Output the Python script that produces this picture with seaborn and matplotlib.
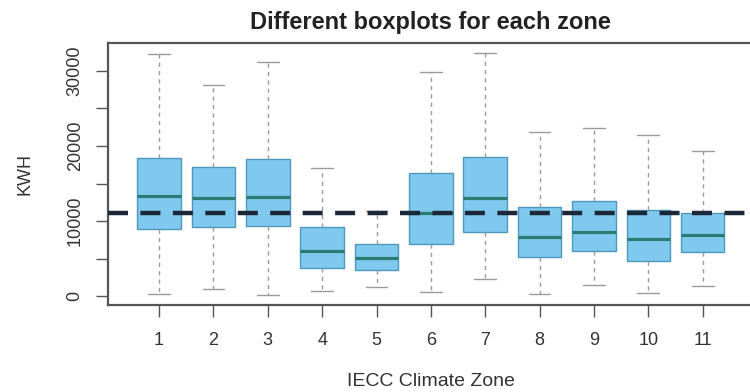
import numpy as np
import pandas as pd
import matplotlib
matplotlib.use("Agg")
import matplotlib.pyplot as plt
import seaborn as sns

# Five-number summaries of annual consumption (kWh) per IECC climate zone
zones = ["1", "2", "3", "4", "5", "6", "7", "8", "9", "10", "11"]
whisker_low = [270, 930, 130, 670, 1200, 530, 2270, 270, 1470, 400, 1330]
q1 = [8930, 9200, 9330, 3730, 3470, 6930, 8530, 5200, 6000, 4670, 5870]
median = [13400, 13070, 13200, 6000, 5070, 11070, 13070, 7870, 8530, 7600, 8130]
q3 = [18400, 17200, 18270, 9200, 7000, 16400, 18530, 11870, 12670, 11470, 11070]
whisker_high = [32270, 28130, 31200, 17070, 11330, 29870, 32400, 21870, 22400, 21470, 19330]
overall_mean = 11100

# Long table: each zone's five summary values, so the box stats reproduce them exactly
rows = []
for z, a, b, c, d, e in zip(zones, whisker_low, q1, median, q3, whisker_high):
    for v in (a, b, c, d, e):
        rows.append({"zone": z, "kwh": v})
df = pd.DataFrame(rows)

sns.set_theme(style="white")
plt.rcParams["font.family"] = ["Liberation Sans", "DejaVu Sans"]

fig = plt.figure(figsize=(7.5, 3.92), dpi=100)
ax = fig.add_axes([0.144, 0.222, 0.861, 0.668])

sns.boxplot(
    data=df, x="zone", y="kwh", order=zones, ax=ax,
    whis=np.inf, width=0.8, saturation=1, color="#80c9ee",
    linewidth=1.0, linecolor="#4d97bd",
    boxprops=dict(edgecolor="#4d97bd"),
    medianprops=dict(color="#2b7b72", linewidth=2.3),
    whiskerprops=dict(color="#9a9a9a", linestyle=(0, (3, 3)), linewidth=1.0),
    capprops=dict(color="#9a9a9a", linewidth=1.0),
    showfliers=False,
)

ax.axhline(overall_mean, color="#1c2838", linewidth=3.2,
           linestyle=(0, (4.5, 2.8)), zorder=5)

ax.set_xlim(-0.94, 10.94)
ax.set_ylim(-1160, 33690)

ax.set_yticks(np.arange(0, 30001, 5000))
ax.set_yticklabels(["0", "", "10000", "", "20000", "", "30000"],
                   rotation=90, va="center")
ax.tick_params(axis="both", which="major", left=True, bottom=True,
               length=8.5, width=1.0, color="#555555",
               labelsize=13, labelcolor="#333333")
ax.tick_params(axis="x", pad=11)
ax.tick_params(axis="y", pad=9)

for s in ax.spines.values():
    s.set_visible(True)
    s.set_color("#555555")
    s.set_linewidth(1.6)

ax.set_title("Different boxplots for each zone", fontsize=17,
             fontweight="bold", color="#222222", pad=10)
ax.set_xlabel("IECC Climate Zone", fontsize=14, color="#333333")
ax.set_ylabel("KWH", fontsize=13, color="#333333")
ax.xaxis.set_label_coords(0.5, -0.26)
ax.yaxis.set_label_coords(-0.115, 0.5)

fig.savefig("out.png", dpi=100)
